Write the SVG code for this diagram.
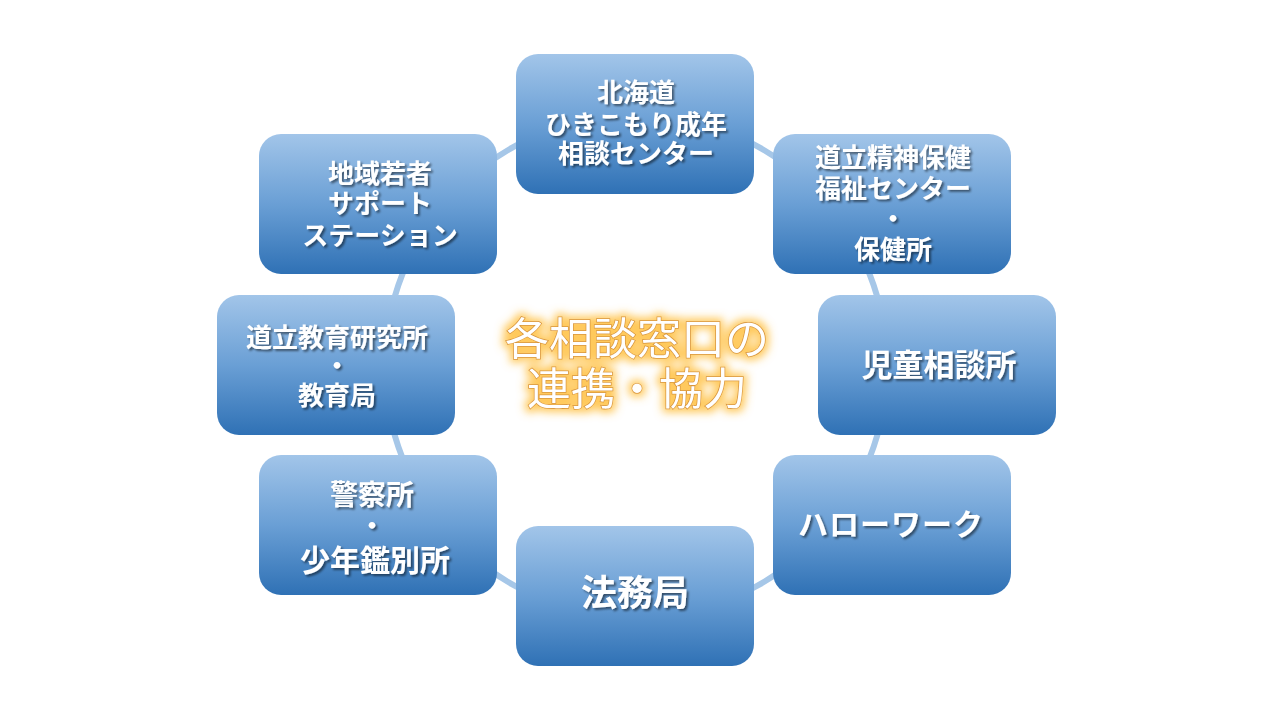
<svg xmlns="http://www.w3.org/2000/svg" width="1280" height="720" viewBox="0 0 1280 720">
<defs>
<linearGradient id="nodeGrad" x1="0" y1="0" x2="0" y2="1">
<stop offset="0" stop-color="#a2c5e9"/>
<stop offset="0.5" stop-color="#6a9fd5"/>
<stop offset="1" stop-color="#2f71b5"/>
</linearGradient>
<filter id="txtShadow" x="-10%" y="-20%" width="130%" height="150%">
<feGaussianBlur in="SourceAlpha" stdDeviation="0.8"/>
<feOffset dx="1.5" dy="1.5" result="b"/>
<feFlood flood-color="#000" flood-opacity="0.5"/>
<feComposite in2="b" operator="in" result="s"/>
<feMerge><feMergeNode in="s"/><feMergeNode in="SourceGraphic"/></feMerge>
</filter>
<filter id="glow" x="-20%" y="-40%" width="140%" height="180%">
<feMorphology in="SourceAlpha" operator="dilate" radius="3" result="d"/>
<feGaussianBlur in="d" stdDeviation="4" result="g"/>
<feFlood flood-color="#ffc34a" flood-opacity="0.9"/>
<feComposite in2="g" operator="in" result="glowc"/>
<feMerge><feMergeNode in="glowc"/><feMergeNode in="SourceGraphic"/></feMerge>
</filter>
</defs>
<style>
.node rect{fill:url(#nodeGrad);}
.node text{font-family:"Noto Sans CJK JP","Noto Sans",sans-serif;font-weight:bold;fill:#ffffff;text-anchor:middle;font-size:26px;filter:url(#txtShadow);}
.ring{fill:none;stroke:#a6c7e8;stroke-width:6;}
.center text{font-family:"Noto Sans CJK JP","Noto Sans",sans-serif;font-weight:normal;font-size:44px;fill:#ffffff;stroke:#d8953e;stroke-width:1.5;paint-order:stroke;text-anchor:middle;}
</style>
<rect width="1280" height="720" fill="#ffffff"/>
<g id="connectors">
<circle class="ring" cx="636" cy="366" r="251"/>
</g>
<g id="center" class="center" filter="url(#glow)">
<text x="637" y="355">各相談窓口の</text>
<text x="637" y="405">連携・協力</text>
</g>
<g id="n-hikikomori" class="node">
<rect x="516" y="54" width="238" height="140" rx="22"/>
<text x="636" y="102">北海道</text>
<text x="636" y="134">ひきこもり成年</text>
<text x="636" y="163">相談センター</text>
</g>
<g id="n-seishin" class="node">
<rect x="773" y="134" width="238" height="140" rx="22"/>
<text x="893" y="167">道立精神保健</text>
<text x="893" y="198">福祉センター</text>
<text x="893" y="228">・</text>
<text x="893" y="259">保健所</text>
</g>
<g id="n-jido" class="node">
<rect x="818" y="295" width="238" height="140" rx="22"/>
<text x="939" y="376" style="font-size:31px">児童相談所</text>
</g>
<g id="n-hellowork" class="node">
<rect x="773" y="455" width="238" height="140" rx="22"/>
<text x="891" y="535" style="font-size:30px;letter-spacing:1px">ハローワーク</text>
</g>
<g id="n-homukyoku" class="node">
<rect x="516" y="526" width="238" height="140" rx="22"/>
<text x="635" y="606" style="font-size:36px">法務局</text>
</g>
<g id="n-keisatsu" class="node">
<rect x="259" y="455" width="238" height="140" rx="22"/>
<text x="372" y="505" style="font-size:28px">警察所</text>
<text x="372" y="535">・</text>
<text x="375" y="571" style="font-size:30px">少年鑑別所</text>
</g>
<g id="n-kyoiku" class="node">
<rect x="217" y="295" width="238" height="140" rx="22"/>
<text x="337" y="347">道立教育研究所</text>
<text x="337" y="375">・</text>
<text x="337" y="405">教育局</text>
</g>
<g id="n-wakamono" class="node">
<rect x="259" y="134" width="238" height="140" rx="22"/>
<text x="380" y="183">地域若者</text>
<text x="380" y="213">サポート</text>
<text x="380" y="245">ステーション</text>
</g>
</svg>
